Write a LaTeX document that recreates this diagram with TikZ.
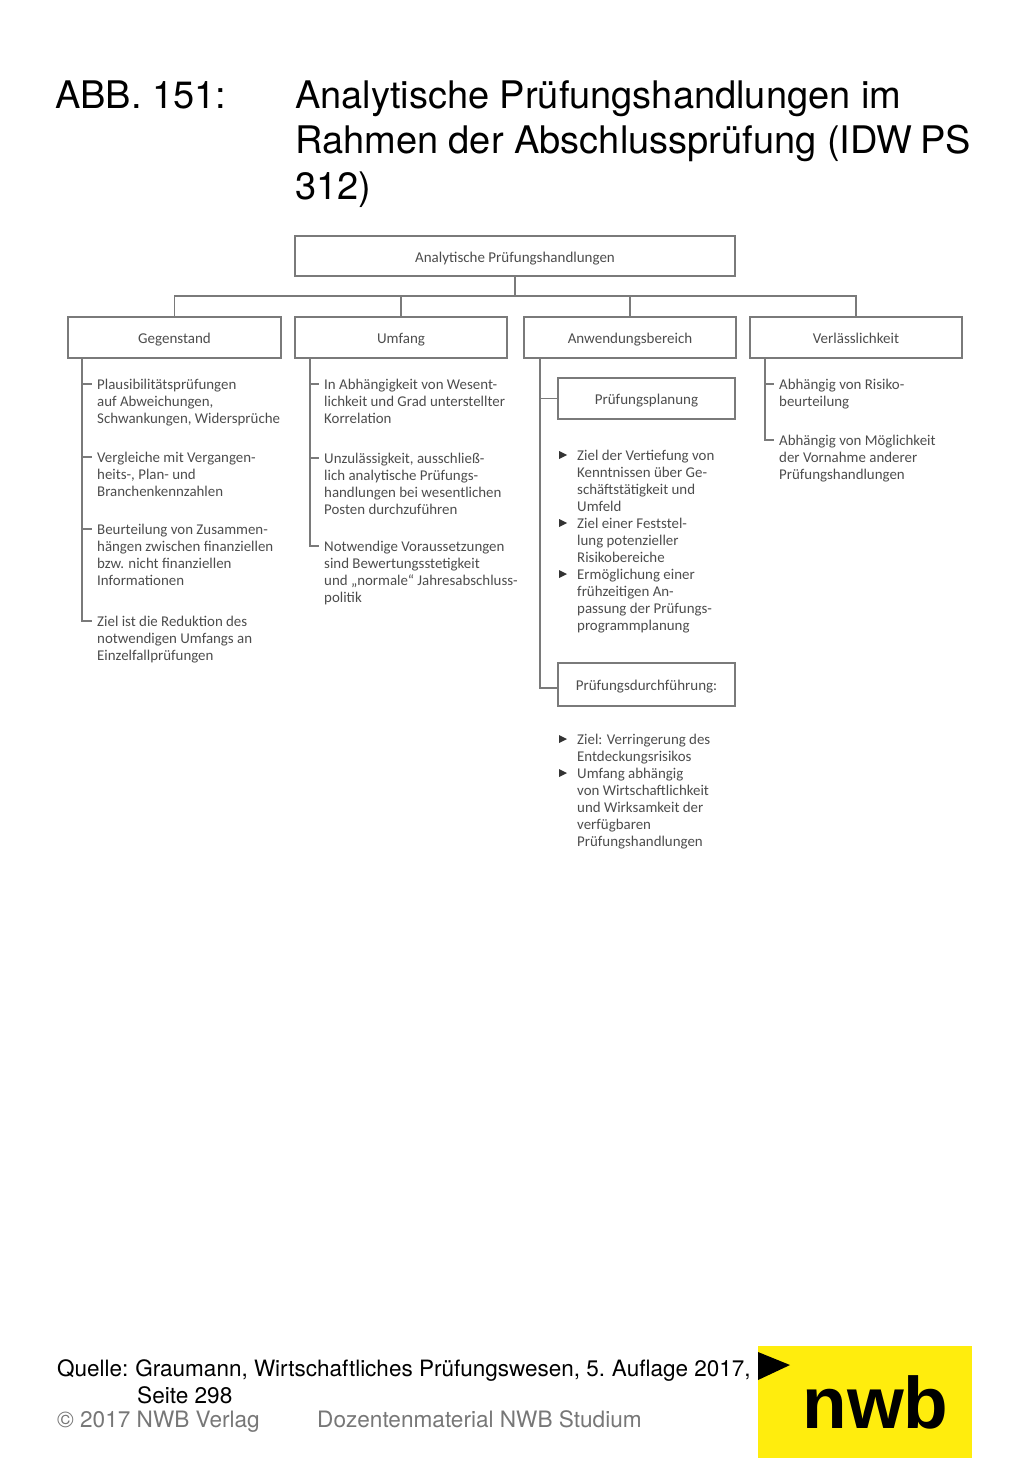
\documentclass[tikz,border=0pt]{standalone}
\usepackage{fontspec}
\setmainfont{Carlito}
\newfontfamily\headfont{TeX Gyre Heros}
\newfontfamily\logofont{Liberation Sans}
\usetikzlibrary{positioning}
\definecolor{linegrey}{HTML}{7A7A7A}
\definecolor{textgrey}{HTML}{4C4C4C}
\definecolor{footgrey}{HTML}{777777}
\definecolor{nwbyellow}{HTML}{FFED0D}
\tikzset{
  boxnode/.style={draw=linegrey,line width=1.4pt,inner sep=0pt,outer sep=0pt,text=textgrey,
    text height=12.5pt,text depth=0.5pt,font=\fontsize{15}{17}\selectfont},
  itemtext/.style={anchor=north west,inner sep=0pt,align=left,text=textgrey,
    font=\fontsize{14.9}{17}\selectfont},
  link/.style={draw=linegrey,line width=1.4pt},
  headtext/.style={anchor=base west,inner sep=0pt,align=left,font=\headfont\fontsize{38}{45.5}\selectfont},
  foottext/.style={anchor=base west,inner sep=0pt,font=\headfont\fontsize{22.6}{27}\selectfont}
}
\begin{document}
\begin{tikzpicture}[x=1pt,y=-1pt]
\useasboundingbox (0,0) rectangle (1024,1479);
% title
\node[headtext] (abb) at (55,109) {ABB. 151:};
\node[headtext,anchor=north west] (title) at (295,80) {Analytische Prüfungshandlungen im\\Rahmen der Abschlussprüfung (IDW\hspace{-3pt} PS\\312)};
% boxes
\node[boxnode,minimum width=440,minimum height=40] (top) at (515,256) {Analytische Prüfungshandlungen};
\node[boxnode,minimum width=213,minimum height=41] (gegenstand) at (174.5,337.5) {Gegenstand};
\node[boxnode,minimum width=212,minimum height=41] (umfang) at (401,337.5) {Umfang};
\node[boxnode,minimum width=212,minimum height=41] (anwendung) at (630,337.5) {Anwendungsbereich};
\node[boxnode,minimum width=212,minimum height=41] (verlass) at (856,337.5) {Verlässlichkeit};
\node[boxnode,minimum width=177,minimum height=41] (planung) at (646.5,398.5) {Prüfungsplanung};
\node[boxnode,minimum width=177,minimum height=43] (durchf) at (646.5,684.5) {Prüfungsdurchführung:};
% upper tree
\coordinate (bus) at (top.south |- 0,296);
\draw[link] (top.south) -- (bus);
\foreach \n in {gegenstand,umfang,anwendung,verlass}
  \draw[link] (\n.north) |- (bus);
% first column
\coordinate (gtop) at ([xshift=14pt]gegenstand.south west);
\foreach \n/\y/\txt in {
  g1/384/{Plausibilitätsprüfungen\\auf Abweichungen,\\Schwankungen, Widersprüche},
  g2/457/{Vergleiche mit Vergangen-\\heits-, Plan- und\\Branchenkennzahlen},
  g3/529/{Beurteilung von Zusammen-\\hängen zwischen finanziellen\\bzw. nicht finanziellen\\Informationen},
  g4/621/{Ziel ist die Reduktion des\\notwendigen Umfangs an\\Einzelfallprüfungen}}
{
  \node[itemtext] (\n) at (97,\y-5) {\txt};
  \draw[link] (gtop) |- ([shift={(-5,5)}]\n.north west);
}
% second column
\coordinate (utop) at ([xshift=15pt]umfang.south west);
\foreach \n/\y/\txt in {
  u1/384/{In Abhängigkeit von Wesent-\\lichkeit und Grad unterstellter\\Korrelation},
  u2/458/{Unzulässigkeit, ausschließ-\\lich analytische Prüfungs-\\handlungen bei wesentlichen\\Posten durchzuführen},
  u3/546/{Notwendige Voraussetzungen\\sind Bewertungsstetigkeit\\und „normale“ Jahresabschluss-\\politik}}
{
  \node[itemtext] (\n) at (324,\y-5) {\txt};
  \draw[link] (utop) |- ([shift={(-5,5)}]\n.north west);
}
% fourth column
\coordinate (vtop) at ([xshift=15pt]verlass.south west);
\foreach \n/\y/\txt in {
  v1/384/{Abhängig von Risiko-\\beurteilung},
  v2/440/{Abhängig von Möglichkeit\\der Vornahme anderer\\Prüfungshandlungen}}
{
  \node[itemtext] (\n) at (779,\y-5) {\txt};
  \draw[link] (vtop) |- ([shift={(-5,5)}]\n.north west);
}
% third column
\coordinate (atop) at ([xshift=16pt]anwendung.south west);
\draw[link] (atop) |- (planung.west);
\draw[link] (atop) |- ([yshift=-3.5pt]durchf.west);
\foreach \n/\y/\txt in {
  a1/455/{Ziel der Vertiefung von\\Kenntnissen über Ge-\\schäftstätigkeit und\\Umfeld},
  a2/523/{Ziel einer Feststel-\\lung potenzieller\\Risikobereiche},
  a3/574/{Ermöglichung einer\\frühzeitigen An-\\passung der Prüfungs-\\programmplanung},
  a4/739/{Ziel: Verringerung des\\Entdeckungsrisikos},
  a5/773/{Umfang abhängig\\von Wirtschaftlichkeit\\und Wirksamkeit der\\verfügbaren\\Prüfungshandlungen}}
{
  \node[itemtext] (\n) at (577,\y-5) {\txt};
  \fill[black!80] (559,\y-4) -- (567,\y) -- (559,\y+4) -- cycle;
}
% footer
\node[foottext,font=\headfont\fontsize{22.5}{27}\selectfont] (quelle) at (57,1376) {Quelle:\hspace{-1.5pt} Graumann, Wirtschaftliches Prüfungswesen, 5.\hspace{-1.5pt} Auflage 2017,};
\node[foottext] (seite) at (137,1403) {Seite 298};
\node[foottext,text=footgrey] (copy) at (57,1427) {© 2017 NWB Verlag};
\node[foottext,text=footgrey] (dozent) at (317,1427) {Dozentenmaterial NWB Studium};
% logo
\fill[nwbyellow] (758,1346) rectangle (972,1458);
\fill[black] (758,1352) -- (790,1365) -- (758,1380) -- cycle;
\node[anchor=base,inner sep=0pt,font=\logofont\bfseries\fontsize{73}{73}\selectfont] (nwb) at (875.5,1428) {nwb};
\end{tikzpicture}
\end{document}
